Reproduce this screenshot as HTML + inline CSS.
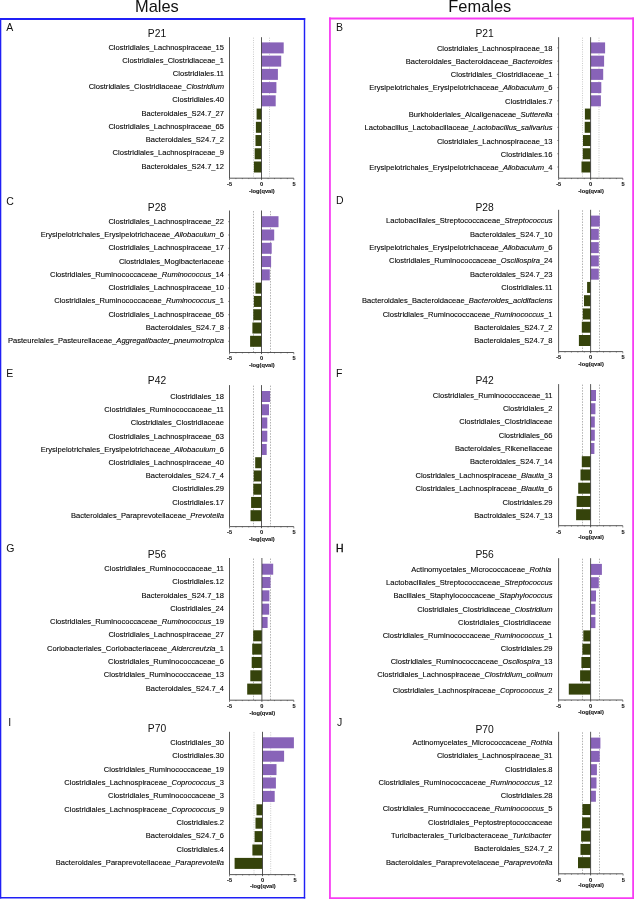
<!DOCTYPE html>
<html lang="en">
<head>
<meta charset="utf-8">
<title>Males / Females differential taxa</title>
<style>
html,body{margin:0;padding:0;background:#fff;}
body{width:634px;height:899px;overflow:hidden;position:relative;font-family:"Liberation Sans", Arial, Helvetica, sans-serif;}
svg{position:absolute;left:0;top:0;display:block;will-change:transform;filter:blur(0.3px);}
text{font-family:"Liberation Sans", Arial, Helvetica, sans-serif;fill:#111;}
.hd{font-size:16.4px;fill:#111;}
.lt{font-size:10.5px;}
.tt{font-size:10.3px;}
.lb{font-size:7.57px;fill:#000;stroke:#000;stroke-width:0.1px;}
.tk{font-size:5.6px;font-weight:bold;fill:#111;stroke:#111;stroke-width:0.1px;}
.al{font-size:5.7px;}
.ax{stroke:#3a3a3a;stroke-width:0.85;fill:none;}
.mt{stroke:#3a3a3a;stroke-width:0.6;fill:none;}
.dt{stroke:#888;stroke-width:0.65;stroke-dasharray:1.5 1.3;fill:none;}
.dl{stroke:#a5a5a5;stroke-dasharray:0.9 1.4;}
.p{fill:#8863b8;}
.g{fill:#35430b;}
</style>
</head>
<body>
<svg width="634" height="899" viewBox="0 0 634 899">
<g stroke="#2020f6" fill="none"><line x1="0" y1="19" x2="305.2" y2="19" stroke-width="2"/><line x1="304.5" y1="18" x2="304.5" y2="898.5" stroke-width="1.45"/><line x1="0.6" y1="18" x2="0.6" y2="898.5" stroke-width="1.4"/><line x1="0" y1="897.75" x2="305.2" y2="897.75" stroke-width="1.5"/></g>
<g stroke="#f73cf3" fill="none"><line x1="329" y1="18.5" x2="634" y2="18.5" stroke-width="2.1"/><line x1="329.95" y1="17.5" x2="329.95" y2="899" stroke-width="1.8"/><line x1="633.1" y1="17.5" x2="633.1" y2="899" stroke-width="1.8"/><line x1="329" y1="898.15" x2="634" y2="898.15" stroke-width="1.8"/></g>
<text x="156.9" y="12" text-anchor="middle" class="hd">Males</text>
<text x="479.8" y="11.8" text-anchor="middle" class="hd">Females</text>
<g>
<text x="6.2" y="30.7" class="lt">A</text>
<text x="157" y="36.8" text-anchor="middle" class="tt">P21</text>
<line x1="253.5" y1="37.7" x2="253.5" y2="178.2" class="dt dl"/>
<line x1="269.5" y1="37.7" x2="269.5" y2="178.2" class="dt dl"/>
<rect x="261.5" y="42.4" width="22.2" height="11" class="p"/>
<rect x="261.5" y="55.63" width="19.7" height="11" class="p"/>
<rect x="261.5" y="68.87" width="16.4" height="11" class="p"/>
<rect x="261.5" y="82.1" width="14.9" height="11" class="p"/>
<rect x="261.5" y="95.33" width="14.2" height="11" class="p"/>
<rect x="256.6" y="108.57" width="4.9" height="11" class="g"/>
<rect x="255.9" y="121.8" width="5.6" height="11" class="g"/>
<rect x="255.5" y="135.03" width="6" height="11" class="g"/>
<rect x="254.7" y="148.27" width="6.8" height="11" class="g"/>
<rect x="253.9" y="161.5" width="7.6" height="11" class="g"/>
<path d="M229.5 37.2V178.2H293.8" class="ax"/>
<line x1="261.5" y1="37.2" x2="261.5" y2="179.8" class="ax"/>
<path d="M229.5 178.2v1.8M235.93 178.2v0.9M242.36 178.2v0.9M248.79 178.2v0.9M255.22 178.2v0.9M268.08 178.2v0.9M274.51 178.2v0.9M280.94 178.2v0.9M287.37 178.2v0.9M293.8 178.2v1.8" class="mt"/>
<text x="229.6" y="186" text-anchor="middle" class="tk">-5</text>
<text x="261.5" y="186" text-anchor="middle" class="tk">0</text>
<text x="294" y="186" text-anchor="middle" class="tk">5</text>
<text x="261.9" y="193.4" text-anchor="middle" class="tk al">-log(qval)</text>
<text x="224" y="49.5" text-anchor="end" class="lb">Clostridiales_Lachnospiraceae_15</text>
<text x="224" y="62.73" text-anchor="end" class="lb">Clostridiales_Clostridiaceae_1</text>
<text x="224" y="75.97" text-anchor="end" class="lb">Clostridiales.11</text>
<text x="224" y="89.2" text-anchor="end" class="lb">Clostridiales_Clostridiaceae_<tspan font-style="italic">Clostridium</tspan></text>
<text x="224" y="102.43" text-anchor="end" class="lb">Clostridiales.40</text>
<text x="224" y="115.67" text-anchor="end" class="lb">Bacteroidales_S24.7_27</text>
<text x="224" y="128.9" text-anchor="end" class="lb">Clostridiales_Lachnospiraceae_65</text>
<text x="224" y="142.13" text-anchor="end" class="lb">Bacteroidales_S24.7_2</text>
<text x="224" y="155.37" text-anchor="end" class="lb">Clostridiales_Lachnospiraceae_9</text>
<text x="224" y="168.6" text-anchor="end" class="lb">Bacteroidales_S24.7_12</text>
</g>
<g>
<text x="336" y="30.7" class="lt">B</text>
<text x="484.6" y="36.8" text-anchor="middle" class="tt">P21</text>
<line x1="582.5" y1="37.7" x2="582.5" y2="178.2" class="dt dl"/>
<line x1="599" y1="37.7" x2="599" y2="178.2" class="dt dl"/>
<rect x="590.6" y="42.4" width="14.5" height="11" class="p"/>
<rect x="590.6" y="55.63" width="13.5" height="11" class="p"/>
<rect x="590.6" y="68.87" width="12.6" height="11" class="p"/>
<rect x="590.6" y="82.1" width="10.7" height="11" class="p"/>
<rect x="590.6" y="95.33" width="10.3" height="11" class="p"/>
<rect x="584.9" y="108.57" width="5.7" height="11" class="g"/>
<rect x="584.7" y="121.8" width="5.9" height="11" class="g"/>
<rect x="583" y="135.03" width="7.6" height="11" class="g"/>
<rect x="582.8" y="148.27" width="7.8" height="11" class="g"/>
<rect x="581.5" y="161.5" width="9.1" height="11" class="g"/>
<path d="M558.6 37.2V178.2H622.8" class="ax"/>
<line x1="590.6" y1="37.2" x2="590.6" y2="179.8" class="ax"/>
<path d="M558.6 178.2v1.8M565.02 178.2v0.9M571.44 178.2v0.9M577.86 178.2v0.9M584.28 178.2v0.9M597.12 178.2v0.9M603.54 178.2v0.9M609.96 178.2v0.9M616.38 178.2v0.9M622.8 178.2v1.8" class="mt"/>
<path d="M558.6 47.9h-1.3M558.6 61.13h-1.3M558.6 74.37h-1.3M558.6 87.6h-1.3M558.6 100.83h-1.3M558.6 114.07h-1.3M558.6 127.3h-1.3M558.6 140.53h-1.3M558.6 153.77h-1.3M558.6 167h-1.3" class="mt"/>
<text x="558.7" y="186" text-anchor="middle" class="tk">-5</text>
<text x="590.6" y="186" text-anchor="middle" class="tk">0</text>
<text x="623" y="186" text-anchor="middle" class="tk">5</text>
<text x="591" y="193.4" text-anchor="middle" class="tk al">-log(qval)</text>
<text x="552.5" y="50.5" text-anchor="end" class="lb">Clostridiales_Lachnospiraceae_18</text>
<text x="552.5" y="63.79" text-anchor="end" class="lb">Bacteroidales_Bacteroidaceae_<tspan font-style="italic">Bacteroides</tspan></text>
<text x="552.5" y="77.08" text-anchor="end" class="lb">Clostridiales_Clostridiaceae_1</text>
<text x="552.5" y="90.37" text-anchor="end" class="lb">Erysipelotrichales_Erysipelotrichaceae_<tspan font-style="italic">Allobaculum</tspan>_6</text>
<text x="552.5" y="103.66" text-anchor="end" class="lb">Clostridiales.7</text>
<text x="552.5" y="116.94" text-anchor="end" class="lb">Burkholderiales_Alcaligenaceae_<tspan font-style="italic">Sutterella</tspan></text>
<text x="552.5" y="130.23" text-anchor="end" class="lb">Lactobacillus_Lactobacillaceae_<tspan font-style="italic">Lactobacillus_salivarius</tspan></text>
<text x="552.5" y="143.52" text-anchor="end" class="lb">Clostridiales_Lachnospiraceae_13</text>
<text x="552.5" y="156.81" text-anchor="end" class="lb">Clostridiales.16</text>
<text x="552.5" y="170.1" text-anchor="end" class="lb">Erysipelotrichales_Erysipelotrichaceae_<tspan font-style="italic">Allobaculum</tspan>_4</text>
</g>
<g>
<text x="6.2" y="204.5" class="lt">C</text>
<text x="157" y="210.7" text-anchor="middle" class="tt">P28</text>
<line x1="253.5" y1="211" x2="253.5" y2="352.5" class="dt"/>
<line x1="270.5" y1="211" x2="270.5" y2="352.5" class="dt"/>
<rect x="261.5" y="216.2" width="17" height="11" class="p"/>
<rect x="261.5" y="229.49" width="12.7" height="11" class="p"/>
<rect x="261.5" y="242.78" width="10.2" height="11" class="p"/>
<rect x="261.5" y="256.07" width="9.6" height="11" class="p"/>
<rect x="261.5" y="269.36" width="8.3" height="11" class="p"/>
<rect x="255.5" y="282.64" width="6" height="11" class="g"/>
<rect x="253.9" y="295.93" width="7.6" height="11" class="g"/>
<rect x="253.3" y="309.22" width="8.2" height="11" class="g"/>
<rect x="252.4" y="322.51" width="9.1" height="11" class="g"/>
<rect x="250.1" y="335.8" width="11.4" height="11" class="g"/>
<path d="M229.5 210.5V352.5H293.8" class="ax"/>
<line x1="261.5" y1="210.5" x2="261.5" y2="354.1" class="ax"/>
<path d="M229.5 352.5v1.8M235.93 352.5v0.9M242.36 352.5v0.9M248.79 352.5v0.9M255.22 352.5v0.9M268.08 352.5v0.9M274.51 352.5v0.9M280.94 352.5v0.9M287.37 352.5v0.9M293.8 352.5v1.8" class="mt"/>
<path d="M229.5 221.7h-1.3M229.5 234.99h-1.3M229.5 248.28h-1.3M229.5 261.57h-1.3M229.5 274.86h-1.3M229.5 288.14h-1.3M229.5 301.43h-1.3M229.5 314.72h-1.3M229.5 328.01h-1.3M229.5 341.3h-1.3" class="mt"/>
<text x="229.6" y="360.3" text-anchor="middle" class="tk">-5</text>
<text x="261.5" y="360.3" text-anchor="middle" class="tk">0</text>
<text x="294" y="360.3" text-anchor="middle" class="tk">5</text>
<text x="261.9" y="367.1" text-anchor="middle" class="tk al">-log(qval)</text>
<text x="224" y="223.7" text-anchor="end" class="lb">Clostridiales_Lachnospiraceae_22</text>
<text x="224" y="236.99" text-anchor="end" class="lb">Erysipelotrichales_Erysipelotrichaceae_<tspan font-style="italic">Allobaculum</tspan>_6</text>
<text x="224" y="250.28" text-anchor="end" class="lb">Clostridiales_Lachnospiraceae_17</text>
<text x="224" y="263.57" text-anchor="end" class="lb">Clostridiales_Mogibacteriaceae</text>
<text x="224" y="276.86" text-anchor="end" class="lb">Clostridiales_Ruminococcaceae_<tspan font-style="italic">Ruminococcus</tspan>_14</text>
<text x="224" y="290.14" text-anchor="end" class="lb">Clostridiales_Lachnospiraceae_10</text>
<text x="224" y="303.43" text-anchor="end" class="lb">Clostridiales_Ruminococcaceae_<tspan font-style="italic">Ruminococcus</tspan>_1</text>
<text x="224" y="316.72" text-anchor="end" class="lb">Clostridiales_Lachnospiraceae_65</text>
<text x="224" y="330.01" text-anchor="end" class="lb">Bacteroidales_S24.7_8</text>
<text x="224" y="343.3" text-anchor="end" class="lb">Pasteurelales_Pasteurellaceae_<tspan font-style="italic">Aggregatibacter_pneumotropica</tspan></text>
</g>
<g>
<text x="336" y="204.4" class="lt">D</text>
<text x="484.6" y="210.9" text-anchor="middle" class="tt">P28</text>
<line x1="582.5" y1="210.3" x2="582.5" y2="351.6" class="dt"/>
<line x1="599.5" y1="210.3" x2="599.5" y2="351.6" class="dt"/>
<rect x="590.6" y="215.6" width="9.2" height="11" class="p"/>
<rect x="590.6" y="228.87" width="8.2" height="11" class="p"/>
<rect x="590.6" y="242.13" width="8.2" height="11" class="p"/>
<rect x="590.6" y="255.4" width="8.2" height="11" class="p"/>
<rect x="590.6" y="268.67" width="8.2" height="11" class="p"/>
<rect x="587.1" y="281.93" width="3.5" height="11" class="g"/>
<rect x="584" y="295.2" width="6.6" height="11" class="g"/>
<rect x="582.8" y="308.47" width="7.8" height="11" class="g"/>
<rect x="581.8" y="321.73" width="8.8" height="11" class="g"/>
<rect x="578.9" y="335" width="11.7" height="11" class="g"/>
<path d="M558.6 209.8V351.6H622.8" class="ax"/>
<line x1="590.6" y1="209.8" x2="590.6" y2="353.2" class="ax"/>
<path d="M558.6 351.6v1.8M565.02 351.6v0.9M571.44 351.6v0.9M577.86 351.6v0.9M584.28 351.6v0.9M597.12 351.6v0.9M603.54 351.6v0.9M609.96 351.6v0.9M616.38 351.6v0.9M622.8 351.6v1.8" class="mt"/>
<text x="558.7" y="359.4" text-anchor="middle" class="tk">-5</text>
<text x="590.6" y="359.4" text-anchor="middle" class="tk">0</text>
<text x="623" y="359.4" text-anchor="middle" class="tk">5</text>
<text x="591" y="365.5" text-anchor="middle" class="tk al">-log(qval)</text>
<text x="552.5" y="223.3" text-anchor="end" class="lb">Lactobacillales_Streptococcaceae_<tspan font-style="italic">Streptococcus</tspan></text>
<text x="552.5" y="236.64" text-anchor="end" class="lb">Bacteroidales_S24.7_10</text>
<text x="552.5" y="249.99" text-anchor="end" class="lb">Erysipelotrichales_Erysipelotrichaceae_<tspan font-style="italic">Allobaculum</tspan>_6</text>
<text x="552.5" y="263.33" text-anchor="end" class="lb">Clostridiales_Ruminococcaceae_<tspan font-style="italic">Oscillospira</tspan>_24</text>
<text x="552.5" y="276.68" text-anchor="end" class="lb">Bacteroidales_S24.7_23</text>
<text x="552.5" y="290.02" text-anchor="end" class="lb">Clostridiales.11</text>
<text x="552.5" y="303.37" text-anchor="end" class="lb">Bacteroidales_Bacteroidaceae_<tspan font-style="italic">Bacteroides_acidifaciens</tspan></text>
<text x="552.5" y="316.71" text-anchor="end" class="lb">Clostridiales_Ruminococcaceae_<tspan font-style="italic">Ruminococcus</tspan>_1</text>
<text x="552.5" y="330.06" text-anchor="end" class="lb">Bacteroidales_S24.7_2</text>
<text x="552.5" y="343.4" text-anchor="end" class="lb">Bacteroidales_S24.7_8</text>
</g>
<g>
<text x="6.2" y="377.4" class="lt">E</text>
<text x="157" y="384.1" text-anchor="middle" class="tt">P42</text>
<line x1="253.5" y1="385.6" x2="253.5" y2="526.6" class="dt"/>
<line x1="270.5" y1="385.6" x2="270.5" y2="526.6" class="dt"/>
<rect x="261.5" y="391" width="8.6" height="11" class="p"/>
<rect x="261.5" y="404.24" width="7.5" height="11" class="p"/>
<rect x="261.5" y="417.49" width="5.8" height="11" class="p"/>
<rect x="261.5" y="430.73" width="5.8" height="11" class="p"/>
<rect x="261.5" y="443.98" width="5.2" height="11" class="p"/>
<rect x="255.2" y="457.22" width="6.3" height="11" class="g"/>
<rect x="253.7" y="470.47" width="7.8" height="11" class="g"/>
<rect x="253.3" y="483.71" width="8.2" height="11" class="g"/>
<rect x="251.1" y="496.96" width="10.4" height="11" class="g"/>
<rect x="250.5" y="510.2" width="11" height="11" class="g"/>
<path d="M229.5 385.1V526.6H293.8" class="ax"/>
<line x1="261.5" y1="385.1" x2="261.5" y2="528.2" class="ax"/>
<path d="M229.5 526.6v1.8M235.93 526.6v0.9M242.36 526.6v0.9M248.79 526.6v0.9M255.22 526.6v0.9M268.08 526.6v0.9M274.51 526.6v0.9M280.94 526.6v0.9M287.37 526.6v0.9M293.8 526.6v1.8" class="mt"/>
<text x="229.6" y="534.4" text-anchor="middle" class="tk">-5</text>
<text x="261.5" y="534.4" text-anchor="middle" class="tk">0</text>
<text x="294" y="534.4" text-anchor="middle" class="tk">5</text>
<text x="261.9" y="540.7" text-anchor="middle" class="tk al">-log(qval)</text>
<text x="224" y="398.9" text-anchor="end" class="lb">Clostridiales_18</text>
<text x="224" y="412.12" text-anchor="end" class="lb">Clostridiales_Ruminococcaceae_11</text>
<text x="224" y="425.34" text-anchor="end" class="lb">Clostridiales_Clostridiaceae</text>
<text x="224" y="438.57" text-anchor="end" class="lb">Clostridiales_Lachnospiraceae_63</text>
<text x="224" y="451.79" text-anchor="end" class="lb">Erysipelotrichales_Erysipelotrichaceae_<tspan font-style="italic">Allobaculum</tspan>_6</text>
<text x="224" y="465.01" text-anchor="end" class="lb">Clostridiales_Lachnospiraceae_40</text>
<text x="224" y="478.23" text-anchor="end" class="lb">Bacteroidales_S24.7_4</text>
<text x="224" y="491.46" text-anchor="end" class="lb">Clostridiales.29</text>
<text x="224" y="504.68" text-anchor="end" class="lb">Clostridiales.17</text>
<text x="224" y="517.9" text-anchor="end" class="lb">Bacteroidales_Paraprevotellaceae_<tspan font-style="italic">Prevotella</tspan></text>
</g>
<g>
<text x="336" y="377.2" class="lt">F</text>
<text x="484.6" y="384.1" text-anchor="middle" class="tt">P42</text>
<line x1="582.5" y1="384.6" x2="582.5" y2="525.7" class="dt"/>
<line x1="599.5" y1="384.6" x2="599.5" y2="525.7" class="dt"/>
<rect x="590.6" y="390" width="5.4" height="11" class="p"/>
<rect x="590.6" y="403.24" width="4.8" height="11" class="p"/>
<rect x="590.6" y="416.49" width="4.2" height="11" class="p"/>
<rect x="590.6" y="429.73" width="4.2" height="11" class="p"/>
<rect x="590.6" y="442.98" width="3.8" height="11" class="p"/>
<rect x="581.8" y="456.22" width="8.8" height="11" class="g"/>
<rect x="580.5" y="469.47" width="10.1" height="11" class="g"/>
<rect x="578.2" y="482.71" width="12.4" height="11" class="g"/>
<rect x="576.7" y="495.96" width="13.9" height="11" class="g"/>
<rect x="576.1" y="509.2" width="14.5" height="11" class="g"/>
<path d="M558.6 384.1V525.7H622.8" class="ax"/>
<line x1="590.6" y1="384.1" x2="590.6" y2="527.3" class="ax"/>
<path d="M558.6 525.7v1.8M565.02 525.7v0.9M571.44 525.7v0.9M577.86 525.7v0.9M584.28 525.7v0.9M597.12 525.7v0.9M603.54 525.7v0.9M609.96 525.7v0.9M616.38 525.7v0.9M622.8 525.7v1.8" class="mt"/>
<text x="558.7" y="533.5" text-anchor="middle" class="tk">-5</text>
<text x="590.6" y="533.5" text-anchor="middle" class="tk">0</text>
<text x="623" y="533.5" text-anchor="middle" class="tk">5</text>
<text x="591" y="539.2" text-anchor="middle" class="tk al">-log(qval)</text>
<text x="552.5" y="397.7" text-anchor="end" class="lb">Clostridiales_Ruminococcaceae_11</text>
<text x="552.5" y="411.06" text-anchor="end" class="lb">Clostridiales_2</text>
<text x="552.5" y="424.41" text-anchor="end" class="lb">Clostridiales_Clostridiaceae</text>
<text x="552.5" y="437.77" text-anchor="end" class="lb">Clostridiales_66</text>
<text x="552.5" y="451.12" text-anchor="end" class="lb">Bacteroidales_Rikenellaceae</text>
<text x="552.5" y="464.48" text-anchor="end" class="lb">Bacteroidales_S24.7_14</text>
<text x="552.5" y="477.83" text-anchor="end" class="lb">Clostridales_Lachnospiraceae_<tspan font-style="italic">Blautia</tspan>_3</text>
<text x="552.5" y="491.19" text-anchor="end" class="lb">Clostridales_Lachnospiraceae_<tspan font-style="italic">Blautia</tspan>_6</text>
<text x="552.5" y="504.54" text-anchor="end" class="lb">Clostridales.29</text>
<text x="552.5" y="517.9" text-anchor="end" class="lb">Bactroidales_S24.7_13</text>
</g>
<g>
<text x="6.2" y="551.5" class="lt">G</text>
<text x="157" y="558.1" text-anchor="middle" class="tt">P56</text>
<line x1="253.5" y1="558.5" x2="253.5" y2="700.2" class="dt"/>
<line x1="270.5" y1="558.5" x2="270.5" y2="700.2" class="dt"/>
<rect x="261.9" y="563.7" width="11.3" height="11" class="p"/>
<rect x="261.9" y="577.02" width="8.6" height="11" class="p"/>
<rect x="261.9" y="590.34" width="7.5" height="11" class="p"/>
<rect x="261.9" y="603.67" width="7.3" height="11" class="p"/>
<rect x="261.9" y="616.99" width="5.7" height="11" class="p"/>
<rect x="253.2" y="630.31" width="8.7" height="11" class="g"/>
<rect x="252.2" y="643.63" width="9.7" height="11" class="g"/>
<rect x="251.7" y="656.96" width="10.2" height="11" class="g"/>
<rect x="250.3" y="670.28" width="11.6" height="11" class="g"/>
<rect x="247.2" y="683.6" width="14.7" height="11" class="g"/>
<path d="M229.5 558V700.2H293.8" class="ax"/>
<line x1="261.9" y1="558" x2="261.9" y2="701.8" class="ax"/>
<path d="M229.5 700.2v1.8M235.93 700.2v0.9M242.36 700.2v0.9M248.79 700.2v0.9M255.22 700.2v0.9M268.08 700.2v0.9M274.51 700.2v0.9M280.94 700.2v0.9M287.37 700.2v0.9M293.8 700.2v1.8" class="mt"/>
<text x="229.6" y="708" text-anchor="middle" class="tk">-5</text>
<text x="261.9" y="708" text-anchor="middle" class="tk">0</text>
<text x="294" y="708" text-anchor="middle" class="tk">5</text>
<text x="262.3" y="714.8" text-anchor="middle" class="tk al">-log(qval)</text>
<text x="224" y="571.1" text-anchor="end" class="lb">Clostridiales_Ruminococcaceae_11</text>
<text x="224" y="584.37" text-anchor="end" class="lb">Clostridiales.12</text>
<text x="224" y="597.63" text-anchor="end" class="lb">Bacteroidales_S24.7_18</text>
<text x="224" y="610.9" text-anchor="end" class="lb">Clostridiales_24</text>
<text x="224" y="624.17" text-anchor="end" class="lb">Clostridiales_Ruminococcaceae_<tspan font-style="italic">Ruminococcus</tspan>_19</text>
<text x="224" y="637.43" text-anchor="end" class="lb">Clostridiales_Lachnospiraceae_27</text>
<text x="224" y="650.7" text-anchor="end" class="lb">Coriobacteriales_Coriobacteriaceae_<tspan font-style="italic">Aldercreutzia</tspan>_1</text>
<text x="224" y="663.97" text-anchor="end" class="lb">Clostridiales_Ruminococcaceae_6</text>
<text x="224" y="677.23" text-anchor="end" class="lb">Clostridiales_Ruminococcaceae_13</text>
<text x="224" y="690.5" text-anchor="end" class="lb">Bacteroidales_S24.7_4</text>
</g>
<g>
<text x="336" y="551.7" class="lt" stroke="#111" stroke-width="0.35">H</text>
<text x="484.6" y="558.3" text-anchor="middle" class="tt">P56</text>
<line x1="582.5" y1="558.7" x2="582.5" y2="700" class="dt"/>
<line x1="599.5" y1="558.7" x2="599.5" y2="700" class="dt"/>
<rect x="590.6" y="563.9" width="11.3" height="11" class="p"/>
<rect x="590.6" y="577.2" width="8.2" height="11" class="p"/>
<rect x="590.6" y="590.5" width="5.4" height="11" class="p"/>
<rect x="590.6" y="603.8" width="4.8" height="11" class="p"/>
<rect x="590.6" y="617.1" width="4.8" height="11" class="p"/>
<rect x="583.3" y="630.4" width="7.3" height="11" class="g"/>
<rect x="582.4" y="643.7" width="8.2" height="11" class="g"/>
<rect x="581.4" y="657" width="9.2" height="11" class="g"/>
<rect x="580.1" y="670.3" width="10.5" height="11" class="g"/>
<rect x="568.8" y="683.6" width="21.8" height="11" class="g"/>
<path d="M558.6 558.2V700H622.8" class="ax"/>
<line x1="590.6" y1="558.2" x2="590.6" y2="701.6" class="ax"/>
<path d="M558.6 700v1.8M565.02 700v0.9M571.44 700v0.9M577.86 700v0.9M584.28 700v0.9M597.12 700v0.9M603.54 700v0.9M609.96 700v0.9M616.38 700v0.9M622.8 700v1.8" class="mt"/>
<text x="558.7" y="707.8" text-anchor="middle" class="tk">-5</text>
<text x="590.6" y="707.8" text-anchor="middle" class="tk">0</text>
<text x="623" y="707.8" text-anchor="middle" class="tk">5</text>
<text x="591" y="713.6" text-anchor="middle" class="tk al">-log(qval)</text>
<text x="551.3" y="571.8" text-anchor="end" class="lb">Actinomycetales_Micrococcaceae_<tspan font-style="italic">Rothia</tspan></text>
<text x="552.5" y="585.03" text-anchor="end" class="lb">Lactobacillales_Streptococcaceae_<tspan font-style="italic">Streptococcus</tspan></text>
<text x="552.5" y="598.27" text-anchor="end" class="lb">Bacillales_Staphylococcaceae_<tspan font-style="italic">Staphylococcus</tspan></text>
<text x="552.5" y="611.5" text-anchor="end" class="lb">Clostridiales_Clostridiaceae_<tspan font-style="italic">Clostridium</tspan></text>
<text x="551.3" y="624.73" text-anchor="end" class="lb">Clostridiales_Clostridiaceae</text>
<text x="552.5" y="637.97" text-anchor="end" class="lb">Clostridiales_Ruminococcaceae_<tspan font-style="italic">Ruminococcus</tspan>_1</text>
<text x="552.5" y="651.2" text-anchor="end" class="lb">Clostridiales.29</text>
<text x="552.5" y="664.43" text-anchor="end" class="lb">Clostridiales_Ruminococcaceae_<tspan font-style="italic">Oscilospira</tspan>_13</text>
<text x="552.5" y="676.6" text-anchor="end" class="lb">Clostridiales_Lachnospiraceae_<tspan font-style="italic">Clostridium_colinum</tspan></text>
<text x="552.5" y="692.5" text-anchor="end" class="lb">Clostridiales_Lachnospiraceae_<tspan font-style="italic">Coprococcus</tspan>_2</text>
</g>
<g>
<text x="8.3" y="725.8" class="lt">I</text>
<text x="157" y="732.4" text-anchor="middle" class="tt">P70</text>
<line x1="254" y1="732.3" x2="254" y2="874.6" class="dt dl"/>
<line x1="270.7" y1="732.3" x2="270.7" y2="874.6" class="dt dl"/>
<rect x="262.5" y="737.3" width="31.4" height="11" class="p"/>
<rect x="262.5" y="750.7" width="21.6" height="11" class="p"/>
<rect x="262.5" y="764.1" width="14" height="11" class="p"/>
<rect x="262.5" y="777.5" width="13.4" height="11" class="p"/>
<rect x="262.5" y="790.9" width="12.2" height="11" class="p"/>
<rect x="256.5" y="804.3" width="6" height="11" class="g"/>
<rect x="255.5" y="817.7" width="7" height="11" class="g"/>
<rect x="254.6" y="831.1" width="7.9" height="11" class="g"/>
<rect x="252.4" y="844.5" width="10.1" height="11" class="g"/>
<rect x="234.6" y="857.9" width="27.9" height="11" class="g"/>
<path d="M229.5 731.8V874.6H294.9" class="ax"/>
<line x1="262.5" y1="731.8" x2="262.5" y2="876.2" class="ax"/>
<path d="M229.5 874.6v1.8M236.04 874.6v0.9M242.58 874.6v0.9M249.12 874.6v0.9M255.66 874.6v0.9M268.74 874.6v0.9M275.28 874.6v0.9M281.82 874.6v0.9M288.36 874.6v0.9M294.9 874.6v1.8" class="mt"/>
<text x="229.6" y="882.4" text-anchor="middle" class="tk">-5</text>
<text x="262.5" y="882.4" text-anchor="middle" class="tk">0</text>
<text x="295.1" y="882.4" text-anchor="middle" class="tk">5</text>
<text x="262.9" y="888.2" text-anchor="middle" class="tk al">-log(qval)</text>
<text x="224" y="745" text-anchor="end" class="lb">Clostridiales_30</text>
<text x="224" y="758.36" text-anchor="end" class="lb">Clostridiales.30</text>
<text x="224" y="771.71" text-anchor="end" class="lb">Clostridiales_Ruminococcaceae_19</text>
<text x="224" y="785.07" text-anchor="end" class="lb">Clostridiales_Lachnospiraceae_<tspan font-style="italic">Coprococcus</tspan>_3</text>
<text x="224" y="798.42" text-anchor="end" class="lb">Clostridiales_Ruminococcaceae_3</text>
<text x="224" y="811.78" text-anchor="end" class="lb">Clostridiales_Lachnospiraceae_<tspan font-style="italic">Coprococcus</tspan>_9</text>
<text x="224" y="825.13" text-anchor="end" class="lb">Clostridiales.2</text>
<text x="224" y="838.49" text-anchor="end" class="lb">Bacteroidales_S24.7_6</text>
<text x="224" y="851.84" text-anchor="end" class="lb">Clostridiales.4</text>
<text x="224" y="865.2" text-anchor="end" class="lb">Bacteroidales_Paraprevotellaceae_<tspan font-style="italic">Paraprevotella</tspan></text>
</g>
<g>
<text x="337" y="725.8" class="lt">J</text>
<text x="484.6" y="732.6" text-anchor="middle" class="tt">P70</text>
<line x1="582.5" y1="732.3" x2="582.5" y2="873.8" class="dt"/>
<line x1="599.5" y1="732.3" x2="599.5" y2="873.8" class="dt"/>
<rect x="590.6" y="737.6" width="9.8" height="11" class="p"/>
<rect x="590.6" y="750.89" width="9.1" height="11" class="p"/>
<rect x="590.6" y="764.18" width="6.3" height="11" class="p"/>
<rect x="590.6" y="777.47" width="5.9" height="11" class="p"/>
<rect x="590.6" y="790.76" width="5.3" height="11" class="p"/>
<rect x="582.4" y="804.04" width="8.2" height="11" class="g"/>
<rect x="582.1" y="817.33" width="8.5" height="11" class="g"/>
<rect x="581.1" y="830.62" width="9.5" height="11" class="g"/>
<rect x="580.5" y="843.91" width="10.1" height="11" class="g"/>
<rect x="578" y="857.2" width="12.6" height="11" class="g"/>
<path d="M558.6 731.8V873.8H623.1" class="ax"/>
<line x1="590.6" y1="731.8" x2="590.6" y2="875.4" class="ax"/>
<path d="M558.6 873.8v1.8M565.05 873.8v0.9M571.5 873.8v0.9M577.95 873.8v0.9M584.4 873.8v0.9M597.3 873.8v0.9M603.75 873.8v0.9M610.2 873.8v0.9M616.65 873.8v0.9M623.1 873.8v1.8" class="mt"/>
<text x="558.7" y="881.6" text-anchor="middle" class="tk">-5</text>
<text x="590.6" y="881.6" text-anchor="middle" class="tk">0</text>
<text x="623.3" y="881.6" text-anchor="middle" class="tk">5</text>
<text x="591" y="887.4" text-anchor="middle" class="tk al">-log(qval)</text>
<text x="552.5" y="745" text-anchor="end" class="lb">Actinomycelates_Micrococcaceae_<tspan font-style="italic">Rothia</tspan></text>
<text x="552.5" y="758.29" text-anchor="end" class="lb">Clostridiales_Lachnospiraceae_31</text>
<text x="552.5" y="771.58" text-anchor="end" class="lb">Clostridiales.8</text>
<text x="552.5" y="784.87" text-anchor="end" class="lb">Clostridiales_Ruminococcaceae_<tspan font-style="italic">Ruminococcus</tspan>_12</text>
<text x="552.5" y="798.16" text-anchor="end" class="lb">Clostridiales.28</text>
<text x="552.5" y="811.44" text-anchor="end" class="lb">Clostridiales_Ruminococcaceae_<tspan font-style="italic">Ruminococcus</tspan>_5</text>
<text x="552.5" y="824.73" text-anchor="end" class="lb">Clostridiales_Peptostreptococcaceae</text>
<text x="551.3" y="838.02" text-anchor="end" class="lb">Turicibacterales_Turicibacteraceae_<tspan font-style="italic">Turicibacter</tspan></text>
<text x="552.5" y="851.31" text-anchor="end" class="lb">Bacteroidales_S24.7_2</text>
<text x="552.5" y="864.6" text-anchor="end" class="lb">Bacteroidales_Paraprevotelaceae_<tspan font-style="italic">Paraprevotella</tspan></text>
</g>
</svg>
</body>
</html>
